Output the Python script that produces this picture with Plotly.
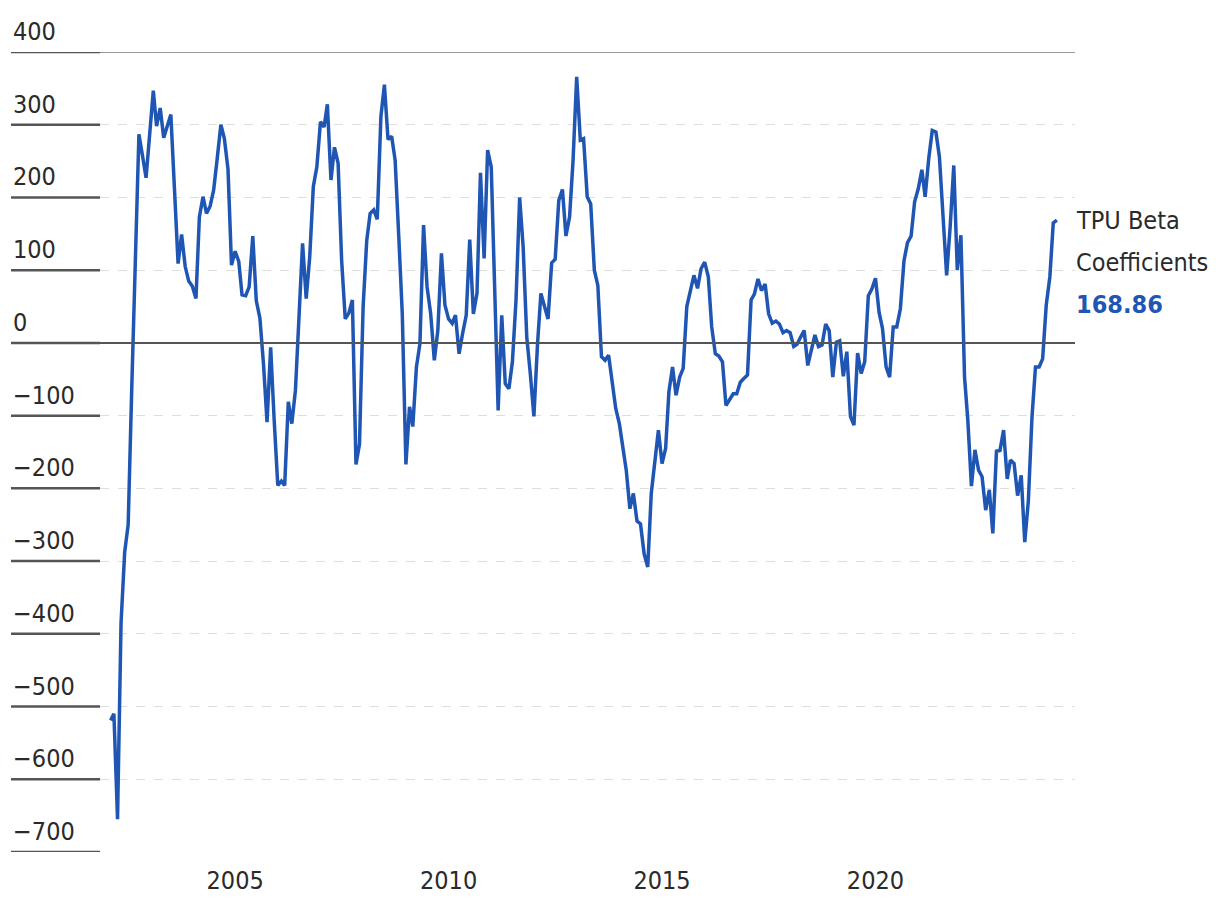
import pandas as pd
import plotly.graph_objects as go

# ---- data (monthly) ----
start_month = "2002-02-01"
tpu_beta = [
    -519, -510, -655, -385, -288, -250, -60, 120, 287, 257, 227, 287, 347, 298, 323, 282,
    298, 314, 212, 109, 149, 105, 85, 78, 61, 173, 201, 178, 188, 210, 254, 300,
    281, 239, 107, 126, 112, 66, 65, 77, 147, 58, 34, -30, -109, -6, -106, -196,
    -190, -196, -81, -111, -65, 36, 137, 61, 118, 215, 242, 304, 297, 328, 224, 269,
    247, 114, 33, 41, 59, -167, -139, 50, 141, 178, 183, 170, 311, 355, 280, 284,
    251, 146, 40, -167, -88, -115, -33, -1, 162, 77, 40, -24, 17, 123, 52, 33,
    27, 38, -15, 13, 38, 142, 40, 68, 234, 116, 265, 242, 75, -93, 38, -56,
    -63, -26, 59, 200, 132, 8, -42, -101, -1, 68, 50, 33, 110, 115, 196, 211,
    147, 173, 251, 366, 279, 281, 201, 191, 100, 79, -19, -24, -17, -51, -90, -111,
    -143, -175, -228, -207, -245, -249, -290, -308, -207, -161, -120, -166, -145, -67, -33, -72,
    -47, -35, 50, 72, 93, 75, 102, 111, 91, 22, -15, -18, -26, -86, -77, -70,
    -70, -54, -49, -44, 59, 67, 88, 72, 81, 40, 27, 30, 26, 14, 17, 14,
    -5, -2, 8, 17, -31, -10, 11, -5, -3, 26, 17, -47, 1, 3, -46, -12,
    -101, -113, -14, -42, -26, 65, 74, 89, 42, 20, -33, -47, 22, 22, 47, 113,
    138, 147, 194, 212, 238, 201, 254, 292, 290, 256, 169, 93, 160, 244, 100, 148,
    -47, -106, -197, -147, -175, -184, -230, -202, -262, -149, -148, -120, -187, -161, -166, -210,
    -182, -274, -217, -102, -33, -33, -22, 52, 91, 165, 168.86,
]
y_ticks = [400, 300, 200, 100, 0, -100, -200, -300, -400, -500, -600, -700]
x_tick_years = ["2005", "2010", "2015", "2020"]
series_lines = ["TPU Beta", "Coefficients"]
last_label = "168.86"

dates = pd.date_range(start_month, periods=len(tpu_beta), freq="MS")

BLUE = "#1f56b4"
FONT = "DejaVu Sans Condensed, Roboto, sans-serif"
TEXT = "#2a2a2a"
FS = 25

fig = go.Figure()
fig.add_trace(go.Scatter(
    x=dates, y=tpu_beta, mode="lines",
    line=dict(color=BLUE, width=3.5), hoverinfo="skip", showlegend=False,
))

W_PLOT = 975.0
lab_x = (11 - 100) / W_PLOT

shapes = []
annotations = []
for v in y_ticks:
    label = str(v).replace("-", "\u2212")
    annotations.append(dict(
        xref="paper", yref="y", x=lab_x, y=v, xanchor="left", yanchor="bottom",
        text=label, showarrow=False, yshift=4,
        font=dict(family=FONT, size=FS, color=TEXT),
    ))
    shapes.append(dict(
        type="line", xref="paper", yref="y", x0=lab_x, x1=0, y0=v, y1=v,
        line=dict(color="#555555", width=2.5),
    ))

# top solid line
shapes.append(dict(type="line", xref="paper", yref="y", x0=0, x1=1, y0=400, y1=400,
                   line=dict(color="#777777", width=1.3)))
# zero line
shapes.append(dict(type="line", xref="paper", yref="y", x0=0, x1=1, y0=0, y1=0,
                   line=dict(color="#555555", width=2)))

# end label (three rows, 42px apart)
rows = [(series_lines[0], TEXT, False), (series_lines[1], TEXT, False), (last_label, BLUE, True)]
for i, (txt, col, bold) in enumerate(rows):
    annotations.append(dict(
        xref="paper", yref="y", x=1, y=tpu_beta[-1], xanchor="left", yanchor="middle",
        xshift=-1, yshift=-42 * i, align="left", showarrow=False,
        text=f"<b>{txt}</b>" if bold else txt,
        font=dict(family=FONT, size=FS, color=col),
    ))

fig.update_layout(
    width=1212, height=906,
    margin=dict(l=92, r=145, t=44, b=62),
    plot_bgcolor="white", paper_bgcolor="white",
    shapes=shapes, annotations=annotations,
    xaxis=dict(
        type="date",
        range=["2001-11-02", "2024-09-03"],
        tickvals=[f"{y}-01-01" for y in x_tick_years],
        ticktext=x_tick_years,
        showgrid=False, zeroline=False, showline=False,
        ticks="outside", ticklen=6, tickcolor="rgba(0,0,0,0)",
        tickfont=dict(family=FONT, size=FS, color=TEXT),
    ),
    yaxis=dict(
        range=[-700, 400],
        tickvals=y_ticks,
        showticklabels=False,
        showgrid=True, gridcolor="#dedede", griddash="dash", gridwidth=1.3,
        zeroline=False, showline=False,
    ),
)

fig.write_html("out.html")
